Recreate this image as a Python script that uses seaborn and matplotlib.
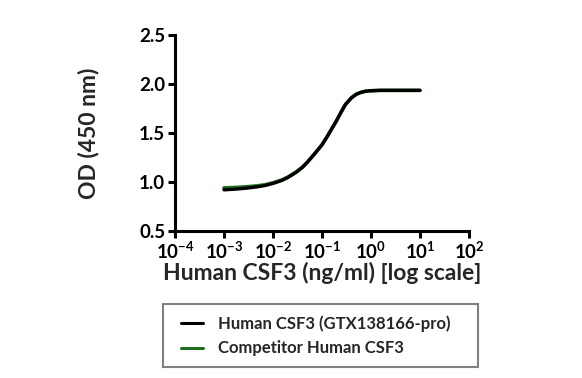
import matplotlib
matplotlib.use("Agg")
import matplotlib.pyplot as plt
import seaborn as sns
import pandas as pd
import numpy as np
from matplotlib.lines import Line2D
from matplotlib.patches import Rectangle

conc = [0.001, 0.0015, 0.002, 0.003, 0.005, 0.007, 0.01, 0.015, 0.02, 0.03, 0.04, 0.05, 0.07,
        0.1, 0.13, 0.17, 0.2, 0.25, 0.3, 0.4, 0.5, 0.6, 0.75, 0.9, 1.2, 1.6, 2, 3, 5, 10]
od_gtx = [0.920, 0.925, 0.930, 0.938, 0.952, 0.965, 0.985, 1.015, 1.045, 1.100, 1.150, 1.200, 1.285,
          1.380, 1.470, 1.570, 1.630, 1.720, 1.790, 1.860, 1.895, 1.912, 1.925, 1.930, 1.933, 1.935, 1.935, 1.935, 1.935, 1.935]
od_comp = [0.940, 0.943, 0.946, 0.952, 0.962, 0.973, 0.992, 1.020, 1.050, 1.104, 1.153, 1.202, 1.286,
           1.380, 1.470, 1.570, 1.630, 1.720, 1.790, 1.860, 1.895, 1.912, 1.925, 1.930, 1.933, 1.935, 1.935, 1.935, 1.935, 1.935]
series = ["Human CSF3 (GTX138166-pro)", "Competitor Human CSF3"]
colors = ["#000000", "#1f6e1f"]
y_ticks = [0.5, 1.0, 1.5, 2.0, 2.5]
x_ticks = [1e-4, 1e-3, 1e-2, 1e-1, 1e0, 1e1, 1e2]

sns.set_style("ticks")
plt.rcParams["font.family"] = ["Lato", "DejaVu Sans"]
plt.rcParams["mathtext.fontset"] = "custom"
plt.rcParams["mathtext.rm"] = "Lato:bold"
plt.rcParams["mathtext.it"] = "Lato:bold"
plt.rcParams["mathtext.bf"] = "Lato:bold"
plt.rcParams["mathtext.default"] = "bf"

df = pd.DataFrame({
    "conc": conc * 2,
    "od": od_comp + od_gtx,
    "series": [series[1]] * len(conc) + [series[0]] * len(conc),
})

fig = plt.figure(figsize=(5.82, 3.78), dpi=100)
ax = fig.add_axes([175/582, 1-231/378, (469-175)/582, (231-35)/378])

sns.lineplot(data=df[df.series == series[1]], x="conc", y="od", color=colors[1], lw=2.6, ax=ax)
sns.lineplot(data=df[df.series == series[0]], x="conc", y="od", color=colors[0], lw=2.4, ax=ax)

ax.set_xscale("log")
ax.set_xlim(1e-4, 1e2)
ax.set_ylim(0.5, 2.5)
ax.set_xticks(x_ticks)
ax.set_xticklabels([r"$10^{%d}$" % int(np.log10(t)) for t in x_ticks])
ax.minorticks_off()
ax.set_yticks(y_ticks)
ax.set_yticklabels([f"{t:.1f}" for t in y_ticks])
for s in ["top", "right"]:
    ax.spines[s].set_visible(False)
for s in ["left", "bottom"]:
    ax.spines[s].set_linewidth(2.2)
    ax.spines[s].set_color("black")
ax.tick_params(axis="both", direction="out", length=5, width=2.2, colors="black", labelsize=13.5, pad=2)
for lab in ax.get_yticklabels():
    lab.set_fontweight("bold")
ax.set_xlabel("Human CSF3 (ng/ml) [log scale]", fontsize=16.5, fontweight="bold", labelpad=0)
ax.set_ylabel("OD (450 nm)", fontsize=16.5, fontweight="bold", labelpad=29)

# legend box
fig.patches.append(Rectangle((163/582, 1-367/378), 315/582, 63/378, transform=fig.transFigure,
                             fill=False, edgecolor="#808080", lw=1.5))
handles = [Line2D([], [], color=colors[0], lw=2.2), Line2D([], [], color=colors[1], lw=2.2)]
leg = fig.legend(handles, series, loc="center left",
                 bbox_to_anchor=(181/582, 1-336/378),
                 frameon=False, fontsize=12,
                 handlelength=1.3, handletextpad=0.9, labelspacing=0.5, borderpad=0,
                 borderaxespad=0)
for t in leg.get_texts():
    t.set_fontweight("bold")

fig.savefig("out.png", dpi=100, facecolor="white")
